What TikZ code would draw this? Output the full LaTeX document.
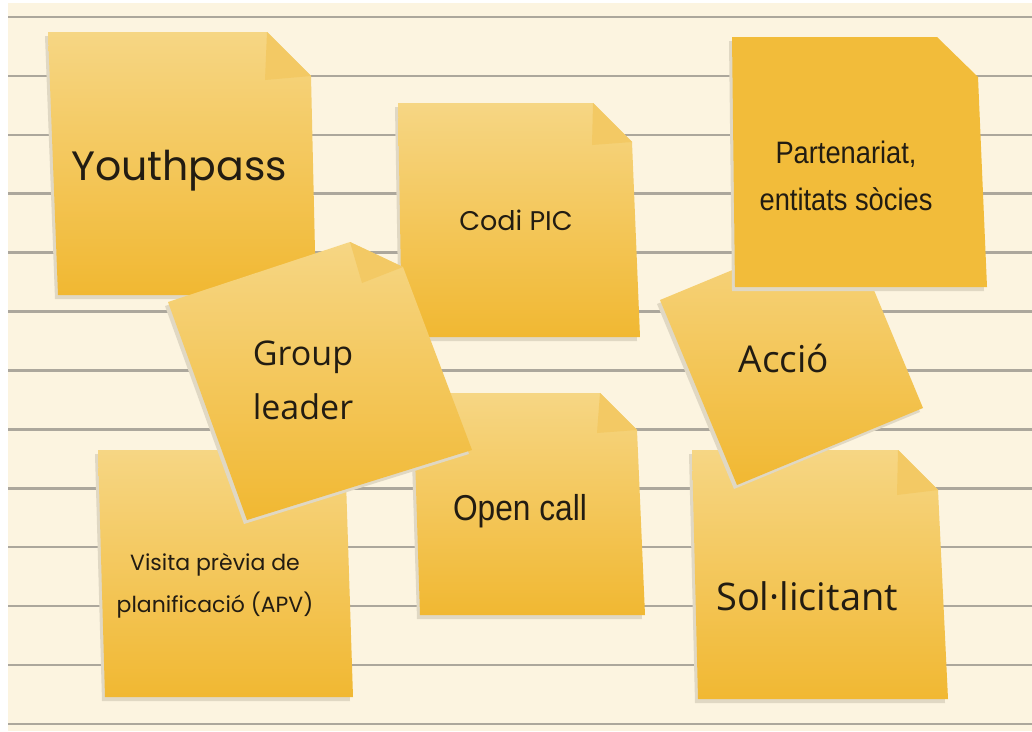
\documentclass[tikz,border=0pt]{standalone}
\usepackage{fontspec}
\setmainfont{Open Sans}
\newfontfamily\handfont{Poppins}
\newfontfamily\narrowfont[FakeStretch=0.88]{Liberation Sans}

\definecolor{paper}{RGB}{252,244,224}
\definecolor{ruling}{RGB}{172,167,156}
\definecolor{notetop}{RGB}{246,214,132}
\definecolor{notebottom}{RGB}{241,184,50}
\definecolor{notefold}{RGB}{243,201,100}
\definecolor{noteflat}{RGB}{242,188,58}
\definecolor{noteshadow}{RGB}{224,216,196}
\definecolor{ink}{RGB}{34,28,18}

% shadow + body of one sticky note
\newcommand{\stickynote}[2]{%
  \fill[noteshade] #2;
  \path[#1] #2;
}

\begin{document}
\begin{tikzpicture}[
    x=1pt, y=-1pt,
    note/.style={top color=notetop, bottom color=notebottom},
    flatnote/.style={fill=noteflat},
    noteshade/.style={fill=noteshadow, shift={(-3,4)}},
    fold/.style={fill=notefold},
    ruled/.style={draw=ruling, line width=2.6pt},
    notetext/.style={text=ink, align=center, inner sep=0pt}
]

% Paper
\useasboundingbox (0,0) rectangle (1032,731);
\fill[white] (0,0) rectangle (1032,731);
\fill[paper] (8,3) rectangle (1032,731);
\foreach \k in {0,...,12}
    \draw[ruled] (8,{17+58.9*\k}) -- (1032,{17+58.9*\k});

% Row 1
\stickynote{note}{(48,32) -- (267,32) -- (311,76) -- (316,295) -- (58,295) -- cycle}
\fill[fold] (267,32) -- (311,76) -- (265,80) -- cycle;
\node[notetext, anchor=base, font=\handfont\fontsize{41}{48}\selectfont] (youth) at (179,180) {Youthpass};

\stickynote{note}{(398,103) -- (593,103) -- (632,142) -- (640,337) -- (402,337) -- cycle}
\fill[fold] (593,103) -- (632,142) -- (592,145) -- cycle;
\node[notetext, anchor=base, font=\handfont\fontsize{27}{32}\selectfont] (codi) at (516,230) {Codi PIC};

% Row 3
\stickynote{note}{(98,450) -- (345,450) -- (353,697) -- (105,697) -- cycle}
\node[notetext, font=\handfont\fontsize{22}{42}\selectfont] (visita) at (215,586) {Visita prèvia de\\planificació (APV)};

\stickynote{note}{(413,393) -- (600,393) -- (637,430) -- (645,615) -- (420,615) -- cycle}
\fill[fold] (600,393) -- (637,430) -- (597,433) -- cycle;
\node[notetext, anchor=base, font=\narrowfont\fontsize{36}{42}\selectfont] (opencall) at (520,520) {Open call};

\stickynote{note}{(692,450) -- (898,450) -- (938,490) -- (948,699) -- (698,699) -- cycle}
\fill[fold] (898,450) -- (938,490) -- (897,495) -- cycle;
\node[notetext, anchor=base, font=\fontsize{38}{44}\selectfont] (solicit) at (807,610) {Sol·licitant};

% Row 2 (tilted)
\stickynote{note}{(660,300) -- (846,223) -- (923,408) -- (737,485) -- cycle}
\node[notetext, anchor=base, font=\fontsize{37}{44}\selectfont] (accio) at (784,372) {Acció};

\stickynote{flatnote}{(732,37) -- (937,37) -- (978,77) -- (987,287) -- (735,287) -- cycle}
\node[notetext, font=\narrowfont\fontsize{31}{47}\selectfont] (partner) at (846,176) {Partenariat,\\entitats sòcies};

\stickynote{note}{(168,302) -- (350,242) -- (403,267) -- (472,450) -- (247,520) -- cycle}
\fill[fold] (350,242) -- (403,267) -- (362,283) -- cycle;
\node[notetext, font=\fontsize{34}{54}\selectfont] (group) at (303,380) {Group\\leader};

\end{tikzpicture}
\end{document}
